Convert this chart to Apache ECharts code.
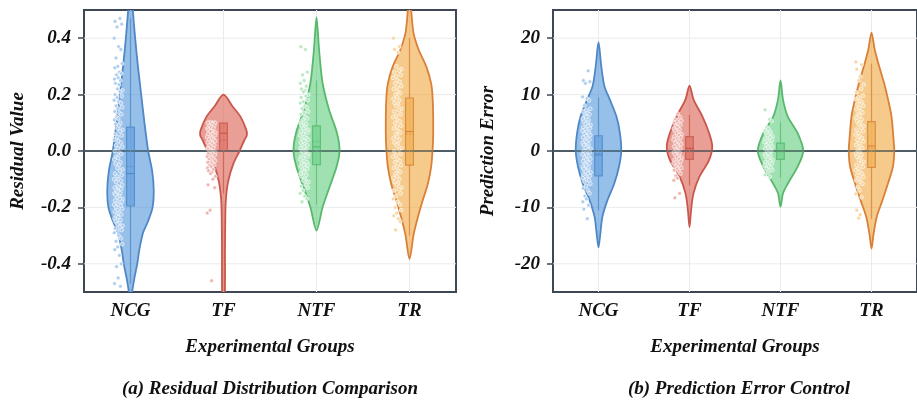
<!DOCTYPE html>
<html><head><meta charset="utf-8">
<script src="https://cdn.jsdelivr.net/npm/echarts@6/dist/echarts.min.js"></script>
<style>html,body{margin:0;padding:0;background:#fff;overflow:hidden}#c{width:917px;height:403px}</style>
</head><body><div id="c"></div>
<script>
// ---------- DATA ----------
const categories = ['NCG', 'TF', 'NTF', 'TR'];
const yTicksA = [-0.4, -0.2, 0, 0.2, 0.4];
const yTicksB = [-20, -10, 0, 10, 20];
const yRangeA = [-0.5, 0.5];
const yRangeB = [-25, 25];

// violin outlines: [value, relative density]
const violinA_NCG = [[0.62,0],[0.5,0.10],[0.4,0.20],[0.3,0.32],[0.2,0.46],[0.1,0.60],[0.0,0.76],[-0.07,0.93],[-0.14,1.0],[-0.2,0.95],[-0.25,0.75],[-0.29,0.54],[-0.35,0.38],[-0.4,0.29],[-0.45,0.17],[-0.5,0.07],[-0.56,0]];
const violinA_TF  = [[0.2,0],[0.158,0.39],[0.122,0.73],[0.075,0.98],[0.055,1.0],[0.039,0.9],[0.0,0.69],[-0.044,0.43],[-0.104,0.21],[-0.163,0.11],[-0.22,0.08],[-0.35,0.065],[-0.5,0.06],[-0.58,0]];
const violinA_NTF = [[0.474,0],[0.42,0.06],[0.36,0.11],[0.242,0.26],[0.146,0.54],[0.064,0.88],[0.0,0.99],[-0.057,0.86],[-0.128,0.56],[-0.2,0.26],[-0.282,0]];
const violinA_TR  = [[0.56,0],[0.5,0.07],[0.42,0.17],[0.36,0.39],[0.3,0.72],[0.24,0.93],[0.18,1.0],[0.064,1.02],[0.0,0.99],[-0.057,0.93],[-0.116,0.79],[-0.175,0.57],[-0.235,0.36],[-0.295,0.18],[-0.383,0]];

const violinB_NCG = [[19.3,0],[15.1,0.12],[11.5,0.26],[9.1,0.5],[6.1,0.79],[3.2,0.94],[0,1.0],[-2.8,0.9],[-5.8,0.69],[-8.75,0.39],[-11.7,0.17],[-14.7,0.08],[-17.1,0]];
const violinB_TF  = [[11.6,0],[9.1,0.18],[6.1,0.57],[3.2,0.86],[0.8,1.0],[-1.6,0.86],[-4.6,0.43],[-7.6,0.17],[-10.5,0.07],[-13.5,0]];
const violinB_NTF = [[12.5,0],[9.1,0.11],[6.1,0.32],[3.2,0.75],[0,1.0],[-2.8,0.75],[-5.8,0.32],[-7.5,0.11],[-9.9,0]];
const violinB_TR  = [[21,0],[18,0.14],[15.1,0.33],[12.1,0.55],[9.1,0.73],[6.1,0.88],[2,0.97],[0,1.0],[-2.8,0.94],[-5.8,0.72],[-8.75,0.48],[-11.7,0.23],[-14.7,0.09],[-17.3,0]];

// box stats: [whiskerLow, q1, median, q3, whiskerHigh]
const boxA = [[-0.47,-0.195,-0.08,0.085,0.47],[-0.15,0.0,0.063,0.099,0.1],[-0.19,-0.048,0.015,0.089,0.25],[-0.3,-0.05,0.069,0.188,0.4]];
const meanA = [-0.055, 0.039, 0.033, 0.06];
const boxB = [[-10.5,-4.4,-0.7,2.7,9.5],[-6.1,-1.5,0.4,2.55,6.4],[-4.7,-1.5,-0.1,1.4,5.1],[-12,-2.9,0.9,5.2,15.5]];
const meanB = [-0.5, 0.6, 0.1, 0.5];

// individual observations
const pointsA_NCG = [0.47,0.46,0.45,0.44,0.40,0.37,0.36,0.33,0.31,0.30,0.295,0.28,0.275,0.27,0.26,0.255,0.25,0.24,0.235,0.22,0.215,0.21,0.20,0.195,0.19,0.18,0.175,0.17,0.16,0.155,0.15,0.14,0.135,0.13,0.12,0.115,0.11,0.10,0.095,0.09,0.08,0.075,0.07,0.06,0.055,0.05,0.04,0.035,0.03,0.02,0.015,0.01,0.00,-0.005,-0.01,-0.02,-0.025,-0.03,-0.04,-0.045,-0.05,-0.06,-0.065,-0.07,-0.08,-0.085,-0.09,-0.10,-0.10,-0.105,-0.11,-0.12,-0.125,-0.13,-0.13,-0.135,-0.14,-0.145,-0.15,-0.15,-0.155,-0.16,-0.165,-0.17,-0.17,-0.175,-0.18,-0.185,-0.19,-0.19,-0.195,-0.20,-0.205,-0.21,-0.215,-0.22,-0.225,-0.23,-0.235,-0.24,-0.245,-0.25,-0.255,-0.26,-0.265,-0.27,-0.275,-0.28,-0.285,-0.29,-0.30,-0.31,-0.32,-0.33,-0.34,-0.35,-0.37,-0.40,-0.41,-0.45,-0.47,-0.48];
const pointsA_TF = [0.10,0.10,0.10,0.10,0.10,0.10,0.095,0.09,0.09,0.085,0.08,0.08,0.075,0.07,0.07,0.065,0.06,0.06,0.055,0.05,0.05,0.045,0.04,0.04,0.035,0.03,0.03,0.025,0.02,0.02,0.015,0.01,0.01,0.005,0.00,0.00,-0.005,-0.01,-0.01,-0.015,-0.02,-0.02,-0.025,-0.03,-0.03,-0.035,-0.04,-0.04,-0.045,-0.05,-0.05,-0.055,-0.06,-0.065,-0.07,-0.075,-0.08,-0.09,-0.10,-0.12,-0.13,-0.21,-0.22,-0.46];
const pointsA_NTF = [0.37,0.36,0.28,0.27,0.25,0.24,0.23,0.22,0.215,0.21,0.20,0.195,0.19,0.18,0.175,0.17,0.16,0.155,0.15,0.14,0.135,0.13,0.12,0.115,0.11,0.10,0.10,0.095,0.09,0.085,0.08,0.075,0.07,0.07,0.065,0.06,0.055,0.05,0.045,0.04,0.04,0.035,0.03,0.025,0.02,0.02,0.015,0.01,0.005,0.00,0.00,-0.005,-0.01,-0.015,-0.02,-0.02,-0.025,-0.03,-0.035,-0.04,-0.045,-0.05,-0.05,-0.055,-0.06,-0.065,-0.07,-0.075,-0.08,-0.085,-0.09,-0.10,-0.105,-0.11,-0.12,-0.125,-0.13,-0.14,-0.15,-0.16,-0.17,-0.18];
const pointsA_TR = [0.40,0.37,0.36,0.35,0.30,0.29,0.285,0.28,0.27,0.265,0.26,0.25,0.245,0.24,0.23,0.225,0.22,0.21,0.205,0.20,0.19,0.185,0.18,0.17,0.165,0.16,0.15,0.145,0.14,0.13,0.125,0.12,0.11,0.105,0.10,0.09,0.085,0.08,0.07,0.065,0.06,0.05,0.045,0.04,0.03,0.025,0.02,0.01,0.005,0.00,-0.01,-0.015,-0.02,-0.03,-0.035,-0.04,-0.05,-0.055,-0.06,-0.07,-0.075,-0.08,-0.09,-0.095,-0.10,-0.11,-0.115,-0.12,-0.13,-0.135,-0.14,-0.15,-0.16,-0.17,-0.18,-0.19,-0.20,-0.21,-0.22,-0.23,-0.24,-0.25,-0.28];

const pointsB_NCG = [14.2,12.5,12.3,12.0,9.6,9.3,9.0,8.1,7.5,7.2,7.0,6.7,6.5,6.2,6.0,5.7,5.5,5.2,5.0,4.8,4.6,4.4,4.2,4.0,3.8,3.6,3.4,3.2,3.0,2.8,2.6,2.4,2.2,2.0,1.8,1.6,1.4,1.2,1.0,0.8,0.6,0.4,0.2,0.0,-0.2,-0.4,-0.6,-0.8,-1.0,-1.2,-1.4,-1.6,-1.8,-2.0,-2.2,-2.4,-2.6,-2.8,-3.0,-3.2,-3.4,-3.6,-3.8,-4.0,-4.2,-4.4,-4.6,-4.8,-5.0,-5.2,-5.4,-5.8,-6.2,-6.6,-7.0,-7.5,-8.0,-8.5,-9.0,-9.6,-10.3,-12.0];
const pointsB_TF = [6.6,6.0,5.6,5.4,5.2,5.0,4.8,4.6,4.4,4.2,4.0,3.8,3.6,3.4,3.2,3.0,2.8,2.6,2.4,2.2,2.0,1.8,1.6,1.4,1.2,1.0,0.8,0.6,0.4,0.2,0.0,-0.2,-0.4,-0.6,-0.8,-1.0,-1.2,-1.4,-1.6,-1.8,-2.0,-2.2,-2.4,-2.6,-2.8,-3.0,-3.2,-3.4,-3.6,-4.0,-4.4,-4.8,-5.2,-7.5,-8.3];
const pointsB_NTF = [7.3,5.6,5.3,4.2,3.9,3.6,3.4,3.2,3.0,2.8,2.6,2.4,2.2,2.0,1.8,1.6,1.4,1.2,1.0,0.8,0.6,0.4,0.2,0.0,-0.2,-0.4,-0.6,-0.8,-1.0,-1.2,-1.4,-1.6,-1.8,-2.0,-2.2,-2.4,-2.6,-2.8,-3.0,-3.2,-3.4,-3.8,-4.2,-4.6];
const pointsB_TR = [15.8,15.3,14.5,13.2,12.5,11.8,11.0,10.4,9.8,9.5,9.2,8.9,8.6,8.3,8.0,7.7,7.4,7.1,6.8,6.5,6.2,5.9,5.6,5.3,5.0,4.7,4.4,4.1,3.8,3.5,3.2,2.9,2.6,2.3,2.0,1.7,1.4,1.1,0.8,0.5,0.2,-0.1,-0.4,-0.7,-1.0,-1.3,-1.6,-1.9,-2.2,-2.5,-2.8,-3.1,-3.4,-3.7,-4.0,-4.3,-4.6,-4.9,-5.2,-5.5,-5.8,-6.4,-7.0,-7.6,-8.2,-10.5,-11.3,-11.9];

// ---------- STYLE ----------
const fills = ['#4a90d9', '#d9584a', '#5ccb7a', '#eda335'];
const strokes = ['#4f88c6', '#c9574b', '#58b86c', '#da8038'];
const frame = '#3d4756';
const FONT = "'Liberation Serif','Times New Roman',serif";
const jitter = [0.30,0.85,0.10,0.62,0.95,0.45,0.20,0.74,0.05,0.55,0.88,0.36,0.15,0.68,0.50,0.92,0.25,0.80,0.40,0.58,0.02];

function rgba(hex, a) {
  const n = parseInt(hex.slice(1), 16);
  return `rgba(${(n >> 16) & 255},${(n >> 8) & 255},${n & 255},${a})`;
}
function tint(hex, t) {
  const n = parseInt(hex.slice(1), 16);
  const c = [(n >> 16) & 255, (n >> 8) & 255, n & 255].map(v => Math.round(v + (255 - v) * t));
  return `rgb(${c[0]},${c[1]},${c[2]})`;
}

const panels = [
  { grid: {left: 84, top: 10, width: 372, height: 282}, range: yRangeA, ticks: yTicksA,
    fmt: v => Number(v).toFixed(1), yName: 'Residual Value', title: '(a) Residual Distribution Comparison',
    violins: [violinA_NCG, violinA_TF, violinA_NTF, violinA_TR], boxes: boxA, means: meanA,
    points: [pointsA_NCG, pointsA_TF, pointsA_NTF, pointsA_TR], yGap: 56 },
  { grid: {left: 553, top: 10, width: 372, height: 282}, range: yRangeB, ticks: yTicksB,
    fmt: v => String(Math.round(v)), yName: 'Prediction Error', title: '(b) Prediction Error Control',
    violins: [violinB_NCG, violinB_TF, violinB_NTF, violinB_TR], boxes: boxB, means: meanB,
    points: [pointsB_NCG, pointsB_TF, pointsB_NTF, pointsB_TR], yGap: 55 }
];

const txt = {fontFamily: FONT, fontStyle: 'italic', fontWeight: 'bold', fontSize: 19, color: '#111'};

const option = {animation: false, backgroundColor: '#fff', grid: [], xAxis: [], yAxis: [], series: [], graphic: []};

panels.forEach((P, gi) => {
  option.grid.push(Object.assign({show: true, borderColor: frame, borderWidth: 2, backgroundColor: 'transparent'}, P.grid));
  option.xAxis.push({
    type: 'category', gridIndex: gi, data: categories, boundaryGap: true,
    axisLine: {lineStyle: {color: frame, width: 2}},
    axisTick: {alignWithLabel: true, length: 6, lineStyle: {color: frame, width: 1.5}},
    axisLabel: Object.assign({margin: 10}, txt),
    splitLine: {show: false},
    name: 'Experimental Groups', nameLocation: 'middle', nameGap: 46, nameTextStyle: txt
  });
  option.yAxis.push({
    type: 'value', gridIndex: gi, min: P.range[0], max: P.range[1],
    axisLine: {show: true, lineStyle: {color: frame, width: 2}},
    axisTick: {show: true, customValues: P.ticks, length: 6, lineStyle: {color: frame, width: 1.5}},
    axisLabel: Object.assign({customValues: P.ticks, formatter: P.fmt, margin: 13}, txt),
    splitLine: {show: false},
    name: P.yName, nameLocation: 'middle', nameGap: P.yGap, nameRotate: 90, nameTextStyle: txt
  });

  // grid lines (behind)
  option.series.push({
    type: 'custom', xAxisIndex: gi, yAxisIndex: gi, z: 1, silent: true,
    data: [[0]],
    renderItem: (params, api) => {
      const cs = params.coordSys;
      const ch = [];
      P.ticks.forEach(t => {
        if (t === 0) return;
        const y = api.coord([0, t])[1];
        ch.push({type: 'line', shape: {x1: cs.x, y1: y, x2: cs.x + cs.width, y2: y}, style: {stroke: '#ebebeb', lineWidth: 1}});
      });
      categories.forEach((c, i) => {
        const x = api.coord([i, 0])[0];
        ch.push({type: 'line', shape: {x1: x, y1: cs.y, x2: x, y2: cs.y + cs.height}, style: {stroke: '#ebebeb', lineWidth: 1}});
      });
      return {type: 'group', children: ch};
    }
  });

  // violins
  option.series.push({
    type: 'custom', xAxisIndex: gi, yAxisIndex: gi, z: 2, clip: true, silent: true,
    data: categories.map((c, i) => [i]),
    renderItem: (params, api) => {
      const i = params.dataIndex;
      const prof = P.violins[i];
      const half = api.size([1, 0])[0] * 0.25;
      const right = [], left = [];
      prof.forEach(([v, d]) => {
        const p = api.coord([i, v]);
        if (d === 0) { right.push(p); return; }
        right.push([p[0] + d * half, p[1]]);
        left.push([p[0] - d * half, p[1]]);
      });
      const pts = right.concat(left.reverse());
      return {type: 'polygon', shape: {points: pts, smooth: 0.3},
        style: {fill: rgba(fills[i], 0.58), stroke: strokes[i], lineWidth: 1.8}};
    }
  });

  // boxes
  option.series.push({
    type: 'custom', xAxisIndex: gi, yAxisIndex: gi, z: 3, silent: true,
    data: categories.map((c, i) => [i]),
    renderItem: (params, api) => {
      const i = params.dataIndex;
      const b = P.boxes[i];
      const hw = api.size([1, 0])[0] * 0.042;
      const cx = api.coord([i, 0])[0];
      const y = v => api.coord([i, v])[1];
      const st = strokes[i];
      return {type: 'group', children: [
        {type: 'line', shape: {x1: cx, y1: y(b[0]), x2: cx, y2: y(b[1])}, style: {stroke: rgba(st, 0.75), lineWidth: 1.2}},
        {type: 'line', shape: {x1: cx, y1: y(b[3]), x2: cx, y2: y(b[4])}, style: {stroke: rgba(st, 0.75), lineWidth: 1.2}},
        {type: 'rect', shape: {x: cx - hw, y: y(b[3]), width: 2 * hw, height: y(b[1]) - y(b[3])},
          style: {fill: rgba(fills[i], 0.45), stroke: rgba(st, 0.8), lineWidth: 1.2}},
        {type: 'line', shape: {x1: cx - hw, y1: y(b[2]), x2: cx + hw, y2: y(b[2])}, style: {stroke: rgba(st, 0.9), lineWidth: 1.2}},
        {type: 'line', shape: {x1: cx - hw, y1: y(P.means[i]), x2: cx + hw, y2: y(P.means[i])}, style: {stroke: rgba(st, 0.7), lineWidth: 1, lineDash: [2, 1.5]}}
      ]};
    }
  });

  // jittered observations
  const pdata = [];
  P.points.forEach((arr, i) => arr.forEach((v, k) => pdata.push([i, v, k])));
  option.series.push({
    type: 'custom', xAxisIndex: gi, yAxisIndex: gi, z: 4, clip: true, silent: true,
    data: pdata,
    renderItem: (params, api) => {
      const i = api.value(0), v = api.value(1), k = api.value(2);
      const band = api.size([1, 0])[0];
      const p = api.coord([i, v]);
      const off = -(0.085 + 0.095 * jitter[(k + i * 5) % jitter.length]) * band;
      return {type: 'circle', shape: {cx: p[0] + off, cy: p[1], r: 1.9},
        style: {fill: tint(fills[i], 0.55), stroke: 'rgba(255,255,255,0.85)', lineWidth: 0.7}};
    }
  });

  // zero reference line (on top)
  option.series.push({
    type: 'custom', xAxisIndex: gi, yAxisIndex: gi, z: 5, silent: true,
    data: [[0]],
    renderItem: (params, api) => {
      const cs = params.coordSys;
      const y0 = api.coord([0, 0])[1];
      return {type: 'line', shape: {x1: cs.x, y1: y0, x2: cs.x + cs.width, y2: y0},
        style: {stroke: 'rgba(95,115,118,0.7)', lineWidth: 1.5}};
    }
  });

  option.graphic.push({
    type: 'text', x: P.grid.left + 186, y: 389,
    style: {text: P.title, align: 'center', verticalAlign: 'middle',
      font: `italic bold 19px ${FONT}`, fill: '#111'}
  });
});

const chart = echarts.init(document.getElementById('c'), null, {renderer: 'canvas'});
chart.setOption(option);
</script>
</body></html>
